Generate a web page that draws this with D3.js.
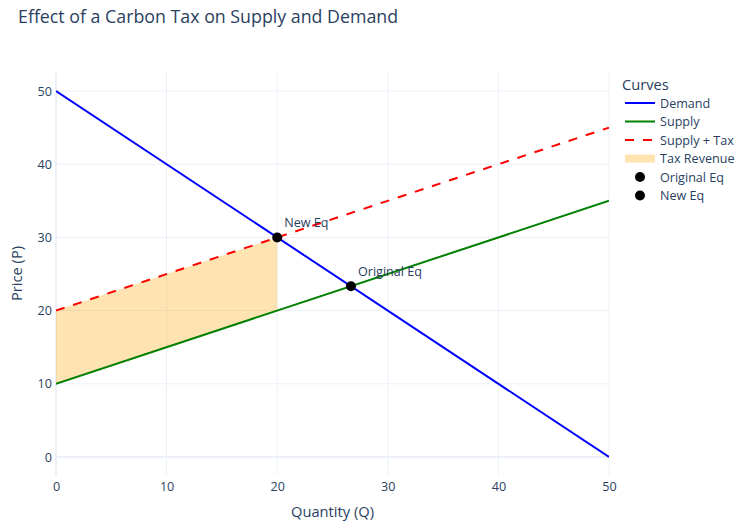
<!DOCTYPE html>
<html><head><meta charset="utf-8">
<script src="https://cdn.jsdelivr.net/npm/d3@7"></script>
<style>body{margin:0;background:#fff;} text{font-family:"Open Sans",verdana,arial,sans-serif;}</style>
</head><body>
<svg id="c" width="747" height="522"></svg>
<script>
const title = "Effect of a Carbon Tax on Supply and Demand";
const quantity = [0, 50];
const demand = [50, 0];
const supply = [10, 35];
const supplyTax = [20, 45];
const taxQ = [0, 20, 20, 0];
const taxP = [10, 20, 30, 20];
const eqNames = ["Original Eq", "New Eq"];
const eqQ = [26.67, 20];
const eqP = [23.33, 30];
const xTicks = [0, 10, 20, 30, 40, 50];
const yTicks = [0, 10, 20, 30, 40, 50];
const legendNames = ["Demand", "Supply", "Supply + Tax", "Tax Revenue", "Original Eq", "New Eq"];

const svg = d3.select("#c");
const L = 56, R = 609, T = 72, B = 475;
const x = d3.scaleLinear().domain([0, 50]).range([L, R]);
const y = d3.scaleLinear().domain([-2.46, 52.6]).range([B, T]);
const txt = "#2a3f5f", grid = "#ebf0f8";
const fam = '"Open Sans",verdana,arial,sans-serif';

svg.append("text").attr("x", 18).attr("y", 23).attr("font-size", 17.8).attr("fill", txt).text(title);

// grid
const g = svg.append("g");
g.selectAll(".gx").data(xTicks.filter(d => d !== 0)).join("line")
  .attr("x1", d => x(d)).attr("x2", d => x(d)).attr("y1", T).attr("y2", B)
  .attr("stroke", grid).attr("stroke-width", 1);
g.selectAll(".gy").data(yTicks.filter(d => d !== 0)).join("line")
  .attr("y1", d => y(d)).attr("y2", d => y(d)).attr("x1", L).attr("x2", R)
  .attr("stroke", grid).attr("stroke-width", 1);
g.append("line").attr("x1", x(0)).attr("x2", x(0)).attr("y1", T).attr("y2", B).attr("stroke", grid).attr("stroke-width", 2);
g.append("line").attr("x1", L).attr("x2", R).attr("y1", y(0)).attr("y2", y(0)).attr("stroke", grid).attr("stroke-width", 2);

const xa = svg.append("g").attr("transform", `translate(0,${B})`)
  .call(d3.axisBottom(x).tickValues(xTicks).tickSize(0).tickPadding(7));
xa.select(".domain").remove();
xa.selectAll("text").attr("font-size", 12.6).attr("fill", txt).attr("font-family", fam);
const ya = svg.append("g").attr("transform", `translate(${L},0)`)
  .call(d3.axisLeft(y).tickValues(yTicks).tickSize(0).tickPadding(4));
ya.select(".domain").remove();
ya.selectAll("text").attr("font-size", 12.6).attr("fill", txt).attr("font-family", fam);

svg.append("text").attr("x", (L + R) / 2).attr("y", 517).attr("text-anchor", "middle")
  .attr("font-size", 14.7).attr("fill", txt).text("Quantity (Q)");
svg.append("text").attr("transform", `translate(22,${(T + B) / 2}) rotate(-90)`).attr("text-anchor", "middle")
  .attr("font-size", 14.7).attr("fill", txt).text("Price (P)");

svg.append("clipPath").attr("id", "pc").append("rect").attr("x", L).attr("y", T).attr("width", R - L).attr("height", B - T);
const plot = svg.append("g").attr("clip-path", "url(#pc)");

const poly = taxQ.map((q, i) => [x(q), y(taxP[i])]);
plot.append("path").attr("d", d3.line()(poly) + "Z").attr("fill", "rgba(255,165,0,0.3)").attr("stroke", "none");

const line = d3.line().x(d => x(d[0])).y(d => y(d[1]));
plot.append("path").attr("d", line(quantity.map((q, i) => [q, demand[i]]))).attr("stroke", "#0000ff").attr("stroke-width", 2).attr("fill", "none");
plot.append("path").attr("d", line(quantity.map((q, i) => [q, supply[i]]))).attr("stroke", "#008000").attr("stroke-width", 2).attr("fill", "none");
plot.append("path").attr("d", line(quantity.map((q, i) => [q, supplyTax[i]]))).attr("stroke", "#ff0000").attr("stroke-width", 2).attr("stroke-dasharray", "9,9").attr("fill", "none");

eqQ.forEach((q, i) => {
  svg.append("circle").attr("cx", x(q)).attr("cy", y(eqP[i])).attr("r", 5).attr("fill", "#000");
  svg.append("text").attr("x", x(q) + 7).attr("y", y(eqP[i]) - 10).attr("font-size", 12.6).attr("fill", txt).text(eqNames[i]);
});

const lg = svg.append("g");
lg.append("text").attr("x", 622).attr("y", 90).attr("font-size", 14.7).attr("fill", txt).text("Curves");
const ly0 = 103, ldy = 18.5;
legendNames.forEach((n, i) => {
  const yy = ly0 + i * ldy;
  if (i === 0) lg.append("line").attr("x1", 625).attr("x2", 655).attr("y1", yy).attr("y2", yy).attr("stroke", "#0000ff").attr("stroke-width", 2);
  if (i === 1) lg.append("line").attr("x1", 625).attr("x2", 655).attr("y1", yy).attr("y2", yy).attr("stroke", "#008000").attr("stroke-width", 2);
  if (i === 2) lg.append("line").attr("x1", 625).attr("x2", 655).attr("y1", yy).attr("y2", yy).attr("stroke", "#ff0000").attr("stroke-width", 2).attr("stroke-dasharray", "9,9");
  if (i === 3) lg.append("rect").attr("x", 625).attr("y", yy - 4).attr("width", 30).attr("height", 8).attr("fill", "rgba(255,165,0,0.3)");
  if (i >= 4) lg.append("circle").attr("cx", 640).attr("cy", yy).attr("r", 5).attr("fill", "#000");
  lg.append("text").attr("x", 660).attr("y", yy + 4.5).attr("font-size", 12.6).attr("fill", txt).text(n);
});
</script>
</body></html>
